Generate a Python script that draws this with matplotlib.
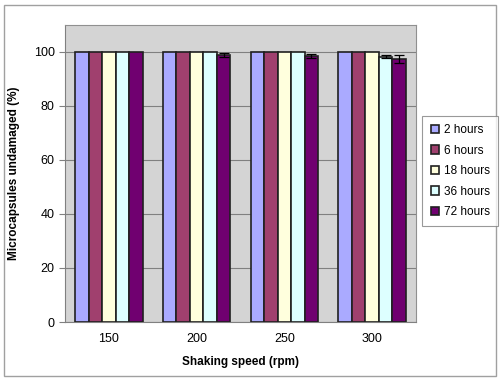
import numpy as np
from matplotlib import pyplot as plt
from matplotlib.patches import Rectangle

plt.rcParams['font.family'] = ['Liberation Sans', 'DejaVu Sans']

speeds = ['150', '200', '250', '300']
series = ['2 hours', '6 hours', '18 hours', '36 hours', '72 hours']
values = [
    [100, 100, 100, 100],
    [100, 100, 100, 100],
    [100, 100, 100, 100],
    [100, 100, 100, 98.2],
    [100, 98.8, 98.5, 97.5],
]
errors = [
    [0, 0, 0, 0],
    [0, 0, 0, 0],
    [0, 0, 0, 0],
    [0, 0, 0, 0.6],
    [0, 0.8, 0.7, 1.5],
]
colors = ['#AAAAFF', '#A0406E', '#FFFFDD', '#DDFFFF', '#700070']

fig = plt.figure(figsize=(5, 3.82), dpi=100)
ax = fig.add_axes([0.13, 0.157, 0.702, 0.778])
ax.set_facecolor('#D4D4D4')

x = np.arange(len(speeds))
w = 0.77 / len(series)
for i, name in enumerate(series):
    pos = x - 0.385 + w * (i + 0.5)
    err = [e if e > 0 else np.nan for e in errors[i]]
    ax.bar(pos, values[i], w, color=colors[i], edgecolor='#202020', linewidth=1.2,
           label=name, zorder=3)
    ax.errorbar(pos, values[i], yerr=err, fmt='none', ecolor='black',
                elinewidth=0.9, capsize=3.5, capthick=0.9, zorder=4)

ax.set_xlim(-0.5, len(speeds) - 0.5)
ax.set_ylim(0, 110)
ax.set_yticks(range(0, 101, 20))
ax.set_xticks(x)
ax.set_xticklabels(speeds)
ax.yaxis.grid(True, color='#808080', linewidth=0.8, zorder=0)
ax.set_axisbelow(True)
for s in ['top', 'right']:
    ax.spines[s].set_color('#909090')
for s in ['left', 'bottom']:
    ax.spines[s].set_color('#808080')
ax.tick_params(axis='x', length=0, pad=8, labelsize=9)
ax.tick_params(axis='y', length=4, color='#808080', labelsize=9)
ax.set_xlabel('Shaking speed (rpm)', fontsize=8.5, fontweight='bold', labelpad=8)
ax.set_ylabel('Microcapsules undamaged (%)', fontsize=8.5, fontweight='bold', labelpad=10)

leg = fig.legend(loc='upper left', bbox_to_anchor=(0.833, 0.712), fontsize=8.5,
                 frameon=True, fancybox=False, edgecolor='#808080',
                 handlelength=0.7, handleheight=0.7, handletextpad=0.4,
                 labelspacing=0.72, borderpad=0.7)
leg.get_frame().set_linewidth(0.8)

fig.patches.append(Rectangle((0.008, 0.016), 0.984, 0.97, transform=fig.transFigure,
                             fill=False, edgecolor='#A0A0A0', linewidth=1.0))

fig.savefig('out.png', dpi=100)
